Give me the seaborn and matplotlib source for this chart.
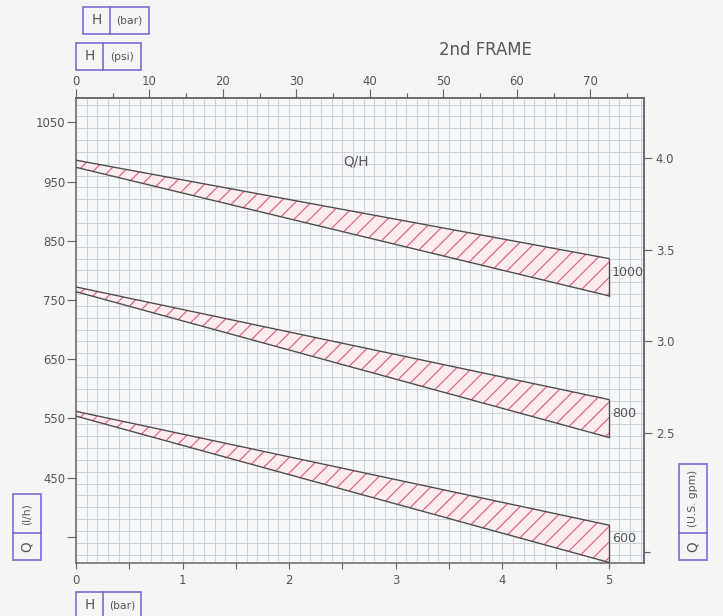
import numpy as np
import pandas as pd
import seaborn as sns
import matplotlib.pyplot as plt
from matplotlib.patches import Rectangle
from matplotlib.lines import Line2D
from matplotlib.ticker import MultipleLocator, FixedLocator, FuncFormatter

# pressure (bar) at start and end of each band
h_bar = [0, 5]
band_names = ['1000', '800', '600']
q_upper = [[986, 820], [772, 582], [562, 370]]
q_lower = [[974, 757], [764, 518], [554, 307]]

# axis ticks
q_ticks = [350, 450, 550, 650, 750, 850, 950, 1050]
psi_ticks = [0, 10, 20, 30, 40, 50, 60, 70]
gpm_ticks = [2.5, 3.0, 3.5, 4.0]
gpm_extra = [1.85]

TXT = '#555555'
BOX = '#7064d2'
SPINE = '#666666'

plt.rcParams['font.family'] = ['DejaVu Sans']
plt.rcParams['hatch.linewidth'] = 0.6

W, H = 723, 616
DPI = 140
fig = plt.figure(figsize=(W / DPI, H / DPI), dpi=DPI)
fig.patch.set_facecolor('#f5f5f5')
ax = fig.add_axes([76 / W, 1 - 563 / H, (644 - 76) / W, (563 - 98) / H])
ax.set_facecolor('#f6f7f9')

# bands
rows = []
for name, hi, lo in zip(band_names, q_upper, q_lower):
    ax.fill_between(h_bar, lo, hi, facecolor='#fcecef', edgecolor='#e0607a',
                    hatch='///', linewidth=0, zorder=2)
    for h, q in zip(h_bar, hi):
        rows.append({'trace': name + '_hi', 'H': h, 'Q': q})
    for h, q in zip(h_bar, lo):
        rows.append({'trace': name + '_lo', 'H': h, 'Q': q})
    rows.append({'trace': name + '_end', 'H': h_bar[-1], 'Q': lo[-1]})
    rows.append({'trace': name + '_end', 'H': h_bar[-1], 'Q': hi[-1]})
    ax.annotate(name, xy=(h_bar[-1], (hi[-1] + lo[-1]) / 2), xytext=(1.5, 2.5),
                textcoords='offset points', ha='left', va='center',
                fontsize=6.5, color=TXT, zorder=4)
df = pd.DataFrame(rows)
sns.lineplot(data=df, x='H', y='Q', units='trace', estimator=None, sort=False,
             color='#4d4d4d', linewidth=0.7, ax=ax, zorder=3)

ax.set_xlim(0, 5.33)
ax.set_ylim(306, 1091)
ax.set_xlabel('')
ax.set_ylabel('')

# bottom axis
ax.xaxis.set_major_locator(MultipleLocator(0.5))
ax.xaxis.set_major_formatter(FuncFormatter(lambda v, p: f'{v:.0f}' if abs(v - round(v)) < 1e-6 else ''))
ax.xaxis.set_minor_locator(MultipleLocator(0.1))
ax.tick_params(axis='x', which='major', length=3, width=0.6, color=SPINE,
               labelsize=6, labelcolor=TXT, pad=2.5)
ax.tick_params(axis='x', which='minor', length=0)

# left axis
ax.yaxis.set_major_locator(FixedLocator(q_ticks))
ax.set_yticklabels(['' if v == 350 else str(v) for v in q_ticks])
ax.yaxis.set_minor_locator(MultipleLocator(20))
ax.tick_params(axis='y', which='major', length=4.5, width=0.6, color=SPINE,
               labelsize=6, labelcolor=TXT, pad=1)
ax.tick_params(axis='y', which='minor', length=0)

ax.set_axisbelow(True)
ax.grid(which='both', axis='x', color='#cbd0dc', linewidth=0.5)
ax.grid(which='minor', axis='y', color='#cbd0dc', linewidth=0.5)
for s in ax.spines.values():
    s.set_color(SPINE)
    s.set_linewidth(0.8)

# top axis in psi
top = ax.secondary_xaxis('top', functions=(lambda b: b * 14.5038, lambda p: p / 14.5038))
top.set_xticks(psi_ticks)
top.xaxis.set_minor_locator(FixedLocator([5, 15, 25, 35, 45, 55, 65, 75]))
top.tick_params(axis='x', which='major', length=4.5, width=0.6, color=SPINE,
                labelsize=6, labelcolor=TXT, pad=0.5)
top.tick_params(axis='x', which='minor', length=2.5, width=0.6, color=SPINE)
top.spines['top'].set_color(SPINE)
top.spines['top'].set_linewidth(0.8)

# right axis in US gpm
ax2 = ax.twinx()
ax2.set_ylim(1.79, 4.33)
ax2.set_yticks(gpm_ticks)
ax2.set_yticklabels([f'{v:.1f}' for v in gpm_ticks])
ax2.set_yticks(gpm_extra, minor=True)
ax2.tick_params(axis='y', which='major', length=4, width=0.6, color=SPINE,
                labelsize=6, labelcolor=TXT, pad=2)
ax2.tick_params(axis='y', which='minor', length=3, width=0.6, color=SPINE)
for k, s in ax2.spines.items():
    s.set_visible(k == 'right')
    s.set_color(SPINE)
    s.set_linewidth(0.8)

ax.text(2.63, 983, 'Q/H', ha='center', va='center', fontsize=7, color=TXT)
fig.text(485 / W, 1 - 50 / H, '2nd FRAME', ha='center', va='center',
         fontsize=8.5, color=TXT)


def label_box(x0, y0, x1, y1, split, big, small, vertical=False):
    fig.add_artist(Rectangle((x0 / W, 1 - y1 / H), (x1 - x0) / W, (y1 - y0) / H,
                             transform=fig.transFigure, fill=False, ec=BOX, lw=0.8))
    if vertical:
        fig.add_artist(Line2D([x0 / W, x1 / W], [1 - split / H, 1 - split / H],
                              transform=fig.transFigure, color=BOX, lw=0.8))
        cx = (x0 + x1) / 2 / W
        fig.text(cx, 1 - (split + y1) / 2 / H, big, rotation=90, ha='center',
                 va='center', fontsize=7, color=TXT)
        fig.text(cx, 1 - (y0 + split) / 2 / H, small, rotation=90, ha='center',
                 va='center', fontsize=5.5, color=TXT)
    else:
        fig.add_artist(Line2D([split / W, split / W], [1 - y0 / H, 1 - y1 / H],
                              transform=fig.transFigure, color=BOX, lw=0.8))
        cy = 1 - (y0 + min(y1, 618)) / 2 / H
        fig.text((x0 + split) / 2 / W, cy, big, ha='center', va='center',
                 fontsize=7, color=TXT)
        fig.text((split + x1) / 2 / W, cy, small, ha='center', va='center',
                 fontsize=5.5, color=TXT)


label_box(83, 7, 149, 34, 109.7, 'H', '(bar)')
label_box(76, 43, 141, 70, 103.3, 'H', '(psi)')
label_box(76, 592, 141, 622, 103.3, 'H', '(bar)')
label_box(13.3, 494, 40.7, 560, 533.3, 'Q', '(l/h)', vertical=True)
label_box(679.3, 464, 706.7, 560, 533.3, 'Q', '(U.S. gpm)', vertical=True)

fig.savefig('out.png', dpi=DPI, facecolor=fig.get_facecolor())
